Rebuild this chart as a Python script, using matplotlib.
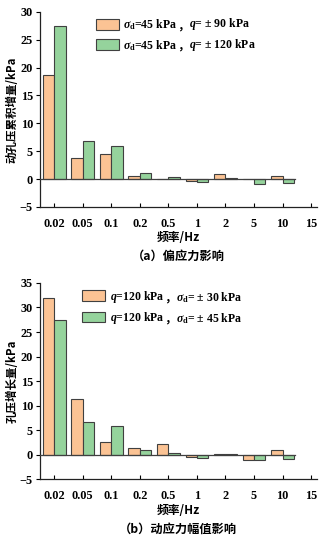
import numpy as np
import matplotlib
matplotlib.use('Agg')
from matplotlib import pyplot as plt

plt.rcParams['font.family'] = ['Liberation Serif', 'Noto Sans CJK SC']
plt.rcParams['mathtext.fontset'] = 'custom'
plt.rcParams['mathtext.rm'] = 'Liberation Serif:bold'
plt.rcParams['mathtext.it'] = 'Liberation Serif:italic:bold'
plt.rcParams['mathtext.bf'] = 'Liberation Serif:bold'
plt.rcParams['axes.unicode_minus'] = True

freq_labels = ['0.02', '0.05', '0.1', '0.2', '0.5', '1', '2', '5', '10', '15']

# (a) 偏应力影响
a_q90 = [18.7, 3.7, 4.5, 0.6, 0.0, -0.3, 0.95, 0.0, 0.6]
a_q120 = [27.5, 6.8, 6.0, 1.1, 0.45, -0.55, 0.15, -0.95, -0.7]

# (b) 动应力幅值影响
b_sd30 = [31.9, 11.3, 2.6, 1.3, 2.1, -0.45, 0.15, -1.15, 1.0]
b_sd45 = [27.4, 6.7, 5.9, 0.95, 0.3, -0.65, 0.1, -1.05, -0.85]

ORANGE = '#fbc394'
GREEN = '#95d39c'
EDGE = '#404040'
CJK = ['Noto Sans CJK SC', 'DejaVu Sans']
FS = 8.8
LFS = 8.5


def draw_panel(ax, s1, s2, lab1, lab2, ylim, ylabel, caption, leg_x):
    x = np.arange(len(s1))
    w = 0.4
    ax.bar(x - w / 2, s1, w, color=ORANGE, edgecolor=EDGE, linewidth=0.8, label=lab1[0], zorder=2)
    ax.bar(x + w / 2, s2, w, color=GREEN, edgecolor=EDGE, linewidth=0.8, label=lab2[0], zorder=2)
    ax.plot([-0.5, len(s1) - 0.55], [0, 0], color=EDGE, linewidth=0.9, zorder=3)

    ax.set_xlim(-0.5, 9.2)
    ax.set_ylim(*ylim)
    ax.set_yticks(np.arange(ylim[0], ylim[1] + 1, 5))
    ax.set_xticks(np.arange(len(freq_labels)))
    ax.set_xticklabels(freq_labels)
    for sp in ['top', 'right']:
        ax.spines[sp].set_visible(False)
    for sp in ['left', 'bottom']:
        ax.spines[sp].set_linewidth(0.9)
        ax.spines[sp].set_color('#222222')
    ax.tick_params(axis='x', direction='in', length=3, width=0.8, pad=8, labelsize=FS)
    ax.tick_params(axis='y', direction='out', length=3, width=0.8, pad=2, labelsize=FS)
    for t in ax.get_xticklabels() + ax.get_yticklabels():
        t.set_fontweight('bold')

    ax.set_ylabel(ylabel, family=CJK, fontsize=8.3, fontweight='bold')
    ax.yaxis.set_label_coords(-0.078, 0.5)
    ax.set_xlabel('频率/Hz', family=CJK, fontsize=8.5, fontweight='bold', labelpad=1)
    ax.text(0.5, -0.22, caption, transform=ax.transAxes, ha='center', va='top',
            family=CJK, fontsize=8.8, fontweight='bold')

    leg = ax.legend(loc='upper left', bbox_to_anchor=(leg_x, 1.025), frameon=False,
                    handlelength=1.95, handleheight=1.0, handletextpad=0.35,
                    labelspacing=0.45, prop={'size': LFS, 'weight': 'bold'})
    # rest of each label: full-width comma in CJK font, then the second condition
    # (zorder above the legend so the legend texts are placed first)
    for t, lab in zip(leg.get_texts(), [lab1, lab2]):
        c = ax.annotate('，', xy=(1, 0), xycoords=t, va='bottom', ha='left',
                        family=CJK, fontsize=LFS, fontweight='bold', zorder=10)
        ax.annotate(lab[1], xy=(1, 0), xycoords=c, va='bottom', ha='left',
                    fontsize=LFS, fontweight='bold', zorder=11)
    return leg


fig = plt.figure(figsize=(3.27, 5.39), dpi=100)

ax1 = fig.add_axes([0.122, 0.616, 0.847, 0.362])
draw_panel(ax1, a_q90, a_q120,
           (r'$\sigma_{\rm d}$=45 kPa', r'$q$= ± 90 kPa'),
           (r'$\sigma_{\rm d}$=45 kPa', r'$q$= ± 120 kPa'),
           (-5, 30), '动孔压累积增量/kPa', '（a）偏应力影响', 0.165)

ax2 = fig.add_axes([0.122, 0.111, 0.847, 0.364])
draw_panel(ax2, b_sd30, b_sd45,
           (r'$q$=120 kPa', r'$\sigma_{\rm d}$= ± 30 kPa'),
           (r'$q$=120 kPa', r'$\sigma_{\rm d}$= ± 45 kPa'),
           (-5, 35), '孔压增长量/kPa', '（b）动应力幅值影响', 0.115)

fig.savefig('out.png', dpi=100)
